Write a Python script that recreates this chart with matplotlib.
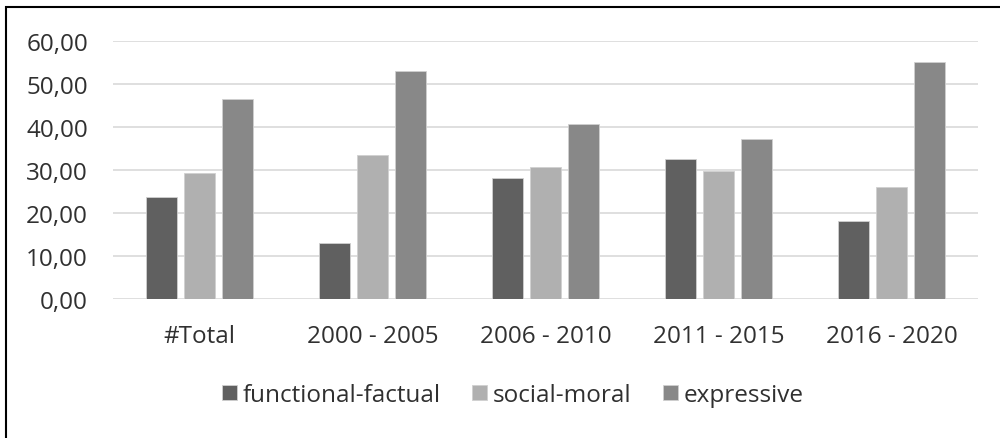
import numpy as np
import matplotlib.pyplot as plt
from matplotlib.patches import Rectangle

categories = ["#Total", "2000 - 2005", "2006 - 2010", "2011 - 2015", "2016 - 2020"]
functional = [23.7, 12.9, 28.0, 32.5, 18.1]
social = [29.2, 33.5, 30.7, 29.7, 26.0]
expressive = [46.4, 52.9, 40.6, 37.2, 55.1]
series_names = ["functional-factual", "social-moral", "expressive"]
colors = ["#606060", "#b0b0b0", "#888888"]

plt.rcParams["font.family"] = ["Open Sans", "DejaVu Sans"]
text_col = "#303030"
fs = 17.5

fig = plt.figure(figsize=(10, 4.39), dpi=100)
ax = fig.add_axes([0.113, 1 - 300 / 439, 0.865, (300 - 41.7) / 439])

x = np.arange(len(categories))
w = 0.175
step = 0.22
for i, (vals, name, c) in enumerate(zip([functional, social, expressive], series_names, colors)):
    ax.bar(x + (i - 1) * step, vals, width=w, color=c, label=name,
           edgecolor="#d0d0d0", linewidth=0.6, zorder=3)

ax.set_xlim(-0.5, len(categories) - 0.5)
ax.set_ylim(0, 60)
ax.set_yticks(np.arange(0, 61, 10))
ax.set_yticklabels([f"{v:.2f}".replace(".", ",") for v in np.arange(0, 61, 10)])
ax.set_xticks(x)
ax.set_xticklabels(categories)
ax.grid(axis="y", color="#d9d9d9", linewidth=1.2, zorder=0)
ax.tick_params(axis="both", length=0, labelsize=fs, colors=text_col)
ax.tick_params(axis="y", pad=18)
ax.tick_params(axis="x", pad=18)
for s in ax.spines.values():
    s.set_visible(False)

fig.legend(loc="center", bbox_to_anchor=(0.513, 1 - 396 / 439), ncol=3, frameon=False,
           fontsize=fs, labelcolor=text_col, handlelength=0.6, handleheight=0.6,
           handletextpad=0.25, columnspacing=1.3)

fig.patches.append(Rectangle((5.5 / 1000, -0.1), 1.2, 1.1 - 7.5 / 439,
                             transform=fig.transFigure, fill=False,
                             edgecolor="black", linewidth=1.5))

fig.savefig("out.png", dpi=100)
